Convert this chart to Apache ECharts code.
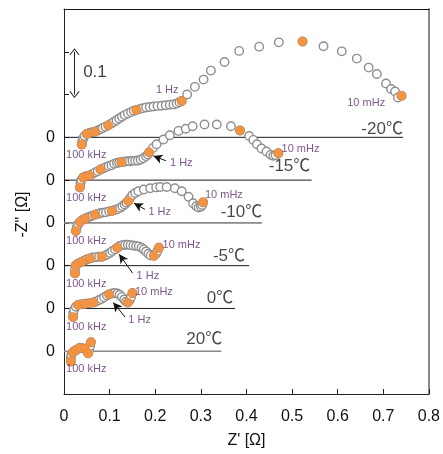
<!DOCTYPE html>
<html>
<head>
<meta charset="utf-8">
<script src="https://cdn.jsdelivr.net/npm/echarts@6/dist/echarts.min.js"></script>
<style>
html,body{margin:0;padding:0;background:#fff;}
#chart{width:443px;height:454px;}
</style>
</head>
<body>
<div id="chart"></div>
<script>
// ---- data: [Z' (Ohm), -Z'' (Ohm)] per temperature ----
const temps = ['-20℃', '-15℃', '-10℃', '-5℃', '0℃', '20℃'];
const offsets = [0.6, 0.5, 0.4, 0.3, 0.2, 0.1];
const baselineEnds = [0.743, 0.543, 0.434, 0.406, 0.375, 0.345];
const xTicks = [0, 0.1, 0.2, 0.3, 0.4, 0.5, 0.6, 0.7, 0.8];

const pts_m20 = [[0.039,-0.017],[0.040,-0.010],[0.042,-0.003],[0.045,0.003],[0.050,0.008],[0.056,0.010],[0.062,0.012],[0.068,0.013],[0.074,0.016],[0.080,0.019],[0.085,0.022],[0.091,0.025],[0.097,0.028],[0.103,0.032],[0.109,0.036],[0.115,0.040],[0.121,0.044],[0.127,0.048],[0.133,0.052],[0.140,0.056],[0.147,0.059],[0.153,0.062],[0.159,0.064],[0.166,0.066],[0.173,0.068],[0.180,0.070],[0.188,0.071],[0.196,0.072],[0.205,0.073],[0.214,0.074],[0.223,0.075],[0.232,0.076],[0.240,0.077],[0.247,0.079],[0.253,0.082],[0.258,0.085],[0.270,0.100],[0.287,0.118],[0.306,0.135],[0.322,0.156],[0.352,0.176],[0.384,0.202],[0.428,0.212],[0.471,0.222],[0.523,0.224],[0.569,0.213],[0.609,0.201],[0.642,0.184],[0.668,0.163],[0.686,0.148],[0.706,0.126],[0.717,0.113],[0.726,0.107],[0.732,0.093],[0.740,0.097]];
const orange_m20 = [[0.039,-0.017],[0.050,0.008],[0.068,0.013],[0.097,0.028],[0.159,0.064],[0.258,0.085],[0.523,0.224],[0.740,0.097]];

const pts_m15 = [[0.035,-0.017],[0.036,-0.008],[0.038,0.000],[0.042,0.006],[0.048,0.009],[0.056,0.011],[0.062,0.014],[0.068,0.018],[0.074,0.021],[0.080,0.025],[0.086,0.027],[0.092,0.030],[0.098,0.033],[0.104,0.035],[0.110,0.038],[0.116,0.040],[0.121,0.041],[0.126,0.042],[0.132,0.043],[0.138,0.044],[0.144,0.044],[0.150,0.045],[0.156,0.045],[0.162,0.046],[0.168,0.048],[0.174,0.051],[0.180,0.056],[0.184,0.060],[0.187,0.065],[0.195,0.075],[0.203,0.084],[0.218,0.095],[0.232,0.105],[0.251,0.115],[0.267,0.120],[0.282,0.126],[0.308,0.130],[0.335,0.130],[0.366,0.126],[0.386,0.116],[0.406,0.103],[0.415,0.094],[0.423,0.084],[0.433,0.074],[0.444,0.067],[0.453,0.059],[0.459,0.057],[0.464,0.058],[0.470,0.063]];
const orange_m15 = [[0.035,-0.017],[0.042,0.006],[0.056,0.011],[0.080,0.025],[0.126,0.042],[0.187,0.065],[0.386,0.116],[0.470,0.063]];

const pts_m10 = [[0.026,-0.019],[0.028,-0.010],[0.031,-0.003],[0.035,0.002],[0.040,0.007],[0.046,0.010],[0.052,0.013],[0.058,0.015],[0.063,0.017],[0.068,0.019],[0.074,0.021],[0.080,0.023],[0.086,0.024],[0.092,0.025],[0.099,0.027],[0.105,0.028],[0.111,0.030],[0.117,0.032],[0.123,0.035],[0.128,0.039],[0.133,0.043],[0.137,0.047],[0.141,0.051],[0.145,0.058],[0.150,0.065],[0.156,0.070],[0.163,0.074],[0.175,0.078],[0.189,0.081],[0.202,0.083],[0.211,0.084],[0.225,0.084],[0.243,0.081],[0.258,0.074],[0.273,0.061],[0.283,0.046],[0.290,0.039],[0.295,0.036],[0.300,0.038],[0.303,0.042],[0.305,0.048]];
const orange_m10 = [[0.026,-0.019],[0.035,0.002],[0.046,0.010],[0.068,0.019],[0.105,0.028],[0.141,0.051],[0.305,0.048]];

const pts_m5 = [[0.024,-0.018],[0.024,-0.009],[0.026,0.001],[0.031,0.005],[0.039,0.009],[0.045,0.012],[0.051,0.015],[0.057,0.017],[0.063,0.019],[0.070,0.020],[0.077,0.021],[0.083,0.021],[0.089,0.023],[0.095,0.026],[0.101,0.030],[0.106,0.034],[0.112,0.038],[0.117,0.042],[0.122,0.046],[0.128,0.048],[0.134,0.049],[0.140,0.049],[0.146,0.048],[0.152,0.047],[0.158,0.046],[0.164,0.045],[0.170,0.042],[0.175,0.038],[0.180,0.033],[0.185,0.028],[0.190,0.024],[0.197,0.023],[0.202,0.028],[0.205,0.034],[0.208,0.042]];
const orange_m5 = [[0.024,-0.018],[0.026,0.001],[0.039,0.009],[0.057,0.017],[0.083,0.021],[0.117,0.042],[0.197,0.023],[0.208,0.042]];

const pts_0 = [[0.020,-0.020],[0.020,-0.012],[0.022,-0.003],[0.026,0.004],[0.031,0.008],[0.038,0.010],[0.046,0.011],[0.055,0.012],[0.064,0.014],[0.070,0.016],[0.076,0.019],[0.082,0.022],[0.088,0.026],[0.094,0.030],[0.099,0.033],[0.105,0.035],[0.111,0.036],[0.117,0.035],[0.122,0.032],[0.127,0.027],[0.132,0.021],[0.136,0.016],[0.140,0.014],[0.144,0.019],[0.147,0.027],[0.150,0.036]];
const orange_0 = [[0.020,-0.020],[0.031,0.008],[0.046,0.011],[0.064,0.014],[0.099,0.033],[0.140,0.014],[0.150,0.036]];

const pts_20 = [[0.015,-0.024],[0.015,-0.016],[0.016,-0.009],[0.019,-0.003],[0.022,0.000],[0.026,0.002],[0.030,0.005],[0.035,0.008],[0.040,0.007],[0.046,0.006],[0.050,0.002],[0.053,-0.005],[0.055,0.003],[0.057,0.012],[0.059,0.021]];
const orange_20 = [[0.015,-0.024],[0.019,-0.003],[0.026,0.002],[0.035,0.008],[0.046,0.006],[0.053,-0.005],[0.059,0.021]];

const allPts = [pts_m20, pts_m15, pts_m10, pts_m5, pts_0, pts_20];
const allOrange = [orange_m20, orange_m15, orange_m10, orange_m5, orange_0, orange_20];

// ---- build ----
const FONT = "'Liberation Sans', Arial, 'Noto Sans CJK JP', sans-serif";
const PURPLE = '#5e2a6e';
const shift = (arr, off) => arr.map(p => [p[0], p[1] + off]);

const series = [];
// baselines
temps.forEach((t, i) => {
  const grey = (t === '-10℃' || t === '20℃');
  series.push({
    type: 'line', name: 'base' + t, silent: true, z: 1,
    data: [[0, offsets[i]], [baselineEnds[i], offsets[i]]],
    symbol: 'none',
    lineStyle: { color: grey ? '#8a8a8a' : '#1a1a1a', width: grey ? 1.6 : 1 }
  });
});
// hollow grey markers
temps.forEach((t, i) => {
  series.push({
    type: 'scatter', name: t, z: 3,
    data: shift(allPts[i], offsets[i]),
    symbol: 'circle', symbolSize: 8.5,
    itemStyle: { color: '#ffffff', borderColor: '#8e8e8e', borderWidth: 1.4, opacity: 1 }
  });
});
// orange decade markers
temps.forEach((t, i) => {
  series.push({
    type: 'scatter', name: t + ' decade', z: 4,
    data: shift(allOrange[i], offsets[i]),
    symbol: 'circle', symbolSize: 9,
    itemStyle: { color: '#f39443', borderColor: '#e7843a', borderWidth: 0.6, opacity: 1 }
  });
});

// annotations (text labels)
function note(text, x, y, align, style) {
  return {
    value: [x, y],
    label: Object.assign({
      show: true, formatter: text,
      position: align === 'left' ? 'right' : (align === 'right' ? 'left' : 'inside'),
      distance: 0, fontFamily: FONT
    }, style)
  };
}
const small = { fontSize: 11, color: PURPLE };
const big = { fontSize: 17, color: '#1a1a1a' };
const notes = [];
const kHzY = [0.558, 0.4584, 0.358, 0.2574, 0.1576, 0.058];
kHzY.forEach(y => notes.push(note('100 kHz', 0.0045, y, 'left', small)));
notes.push(note('1 Hz', 0.2016, 0.711, 'left', small));
notes.push(note('10 mHz', 0.621, 0.681, 'left', small));
notes.push(note(temps[0], 0.743, 0.619, 'right', big));
notes.push(note('1 Hz', 0.2323, 0.540, 'left', small));
notes.push(note('10 mHz', 0.477, 0.573, 'left', small));
notes.push(note(temps[1], 0.540, 0.532, 'right', big));
notes.push(note('1 Hz', 0.185, 0.4255, 'left', small));
notes.push(note('10 mHz', 0.309, 0.466, 'left', small));
notes.push(note(temps[2], 0.4347, 0.424, 'right', big));
notes.push(note('1 Hz', 0.159, 0.277, 'left', small));
notes.push(note('10 mHz', 0.216, 0.348, 'left', small));
notes.push(note(temps[3], 0.397, 0.3227, 'right', big));
notes.push(note('1 Hz', 0.141, 0.172, 'left', small));
notes.push(note('10 mHz', 0.1556, 0.239, 'left', small));
notes.push(note(temps[4], 0.371, 0.224, 'right', big));
notes.push(note(temps[5], 0.347, 0.127, 'right', big));
notes.push(note('0.1', 0.042, 0.753, 'left', { fontSize: 17, color: '#111' }));

series.push({
  type: 'scatter', name: 'notes', z: 6, silent: true,
  symbolSize: 0, data: notes,
  markLine: {
    silent: true, animation: false,
    symbol: ['none', 'arrow'], symbolSize: [7, 9],
    lineStyle: { color: '#111', width: 1, type: 'solid' },
    label: { show: false },
    data: [
      [{ coord: [0.2236, 0.5452] }, { coord: [0.196, 0.5566] }],
      [{ coord: [0.1775, 0.4317] }, { coord: [0.1534, 0.446] }],
      [{ coord: [0.1505, 0.2825] }, { coord: [0.121, 0.3266] }],
      [{ coord: [0.1337, 0.180] }, { coord: [0.108, 0.214] }]
    ]
  }
});
// scale bar (0.1 Ohm)
const chevron = 'path://M0,0 L6,7 L5.1,7.7 L0,1.6 L-5.1,7.7 L-6,7 Z';
series.push({
  type: 'scatter', name: 'scale', z: 6, silent: true, symbolSize: 0, data: [],
  markLine: {
    silent: true, animation: false,
    symbol: [chevron, chevron], symbolSize: [10, 7],
    lineStyle: { color: '#222', width: 1, type: 'solid' },
    label: { show: false },
    data: [[{ coord: [0.023, 0.7] }, { coord: [0.023, 0.8] }]]
  }
});

const chart = echarts.init(document.getElementById('chart'), null, { renderer: 'canvas' });
chart.setOption({
  animation: false,
  backgroundColor: '#ffffff',
  grid: { left: 64, right: 14, top: 9, bottom: 51, containLabel: false },
  xAxis: [{
    type: 'value', min: xTicks[0], max: xTicks[xTicks.length - 1], interval: 0.1,
    position: 'bottom',
    name: "Z' [Ω]", nameLocation: 'middle', nameGap: 39,
    nameTextStyle: { fontFamily: FONT, fontSize: 16, color: '#111' },
    axisLine: { show: true, onZero: false, lineStyle: { color: '#222', width: 1 } },
    axisTick: { show: true, inside: true, length: 5, lineStyle: { color: '#222' } },
    axisLabel: { fontFamily: FONT, fontSize: 16, color: '#111', margin: 15,
      formatter: v => String(Math.round(v * 10) / 10) },
    splitLine: { show: false }
  }, {
    type: 'value', min: 0, max: 0.8, position: 'top',
    axisLine: { show: true, onZero: false, lineStyle: { color: '#111', width: 1 } },
    axisTick: { show: false }, axisLabel: { show: false }, splitLine: { show: false }
  }],
  yAxis: [{
    type: 'value', min: 0, max: 0.9, interval: 0.1,
    position: 'left',
    name: '-Z" [Ω]', nameLocation: 'middle', nameGap: 33,
    nameTextStyle: { fontFamily: FONT, fontSize: 16, color: '#111', padding: [0, 26, 0, 0] },
    axisLine: { show: true, onZero: false, lineStyle: { color: '#222', width: 1 } },
    axisTick: { show: true, inside: true, length: 5, lineStyle: { color: '#222' } },
    axisLabel: { fontFamily: FONT, fontSize: 16, color: '#111', margin: 9,
      formatter: v => (v > 0.05 && v < 0.65) ? '0' : '' },
    splitLine: { show: false }
  }, {
    type: 'value', min: 0, max: 0.9, position: 'right',
    axisLine: { show: true, onZero: false, lineStyle: { color: '#8a8a8a', width: 2 } },
    axisTick: { show: false }, axisLabel: { show: false }, splitLine: { show: false }
  }],
  series: series
});
</script>
</body>
</html>
